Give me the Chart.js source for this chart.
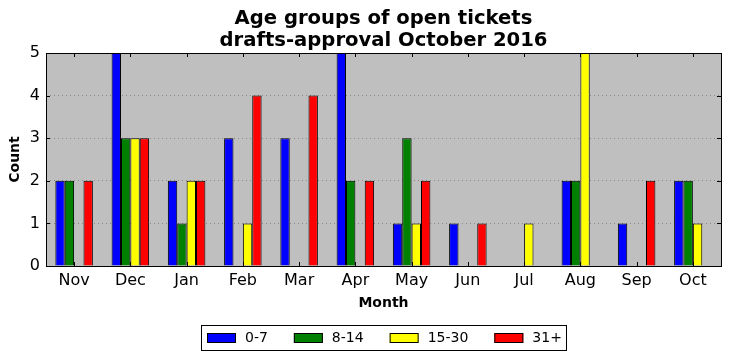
<!DOCTYPE html>
<html lang="en">
<head>
  <meta charset="UTF-8">
  <title>Age groups of open tickets</title>
  <style>
    body { margin: 0; padding: 0; background: #fff; }
    #wrap { width: 731px; height: 361px; position: relative; }
  </style>
</head>
<body>
  <div id="wrap"><canvas id="chart"></canvas></div>

  <script src="https://cdn.jsdelivr.net/npm/chart.js"></script>
  <script>
    const months = ['Nov', 'Dec', 'Jan', 'Feb', 'Mar', 'Apr', 'May', 'Jun', 'Jul', 'Aug', 'Sep', 'Oct'];
    const age0to7 = [2, 5, 2, 3, 3, 5, 1, 1, 0, 2, 1, 2];
    const age8to14 = [2, 3, 1, 0, 0, 2, 3, 0, 0, 2, 0, 2];
    const age15to30 = [0, 3, 2, 1, 0, 0, 1, 0, 1, 5, 0, 1];
    const age31plus = [2, 3, 2, 4, 4, 2, 2, 1, 0, 0, 2, 0];
    const yTicks = [0, 1, 2, 3, 4, 5];
    const titleLines = ['Age groups of open tickets', 'drafts-approval October 2016'];

    const font = 'DejaVu Sans';

    // title centred over the axes, not over the whole canvas
    const titlePlugin = {
      id: 'axesTitle',
      afterDraw(chart) {
        const { ctx, chartArea: a } = chart;
        const cx = (a.left + a.right) / 2;
        ctx.save();
        ctx.fillStyle = '#000';
        ctx.font = 'bold 19.6px "' + font + '"';
        ctx.textAlign = 'center';
        ctx.textBaseline = 'middle';
        titleLines.forEach((t, i) => ctx.fillText(t, cx, 19 + i * 22));
        ctx.restore();
      }
    };

    // frame and inward ticks, like the matplotlib original
    const framePlugin = {
      id: 'frame',
      afterDatasetsDraw(chart) {
        const { ctx, chartArea: a, scales } = chart;
        ctx.save();
        ctx.strokeStyle = '#000';
        ctx.lineWidth = 1;
        ctx.beginPath();
        months.forEach((m, i) => {
          const x = Math.round(scales.x.getPixelForValue(i)) + 0.5;
          ctx.moveTo(x, a.bottom); ctx.lineTo(x, a.bottom - 4);
          ctx.moveTo(x, a.top); ctx.lineTo(x, a.top + 4);
        });
        yTicks.forEach(v => {
          const y = Math.round(scales.y.getPixelForValue(v)) + 0.5;
          ctx.moveTo(a.left, y); ctx.lineTo(a.left + 4, y);
          ctx.moveTo(a.right, y); ctx.lineTo(a.right - 4, y);
        });
        ctx.stroke();
        ctx.strokeRect(Math.round(a.left) + 0.5, Math.round(a.top) + 0.5,
          Math.round(a.right - a.left), Math.round(a.bottom - a.top));
        ctx.restore();
      }
    };

    // boxed legend under the axis title, centred on the axes
    const legendPlugin = {
      id: 'boxLegend',
      afterDraw(chart) {
        const { ctx, chartArea: a } = chart;
        const sets = chart.data.datasets;
        ctx.save();
        ctx.font = '14px "' + font + '"';
        const patchW = 29, patchH = 10, gapText = 9, gapItem = 26, padL = 6, padR = 4;
        const widths = sets.map(d => ctx.measureText(d.label).width);
        let total = padL + padR;
        widths.forEach((w, i) => { total += patchW + gapText + w + (i < widths.length - 1 ? gapItem : 0); });
        const left = Math.round((a.left + a.right) / 2 - total / 2);
        const top = 325, h = 25, cy = top + h / 2;
        ctx.fillStyle = '#fff';
        ctx.fillRect(left, top, total, h);
        ctx.strokeStyle = '#000';
        ctx.lineWidth = 1;
        ctx.strokeRect(left + 0.5, top + 0.5, Math.round(total), h);
        let x = left + padL;
        sets.forEach((d, i) => {
          ctx.fillStyle = d.backgroundColor;
          ctx.fillRect(x, Math.round(cy - patchH / 2), patchW, patchH);
          ctx.strokeRect(x + 0.5, Math.round(cy - patchH / 2) + 0.5, patchW - 1, patchH - 1);
          x += patchW + gapText;
          ctx.fillStyle = '#000';
          ctx.textBaseline = 'middle';
          ctx.fillText(d.label, x, cy + 1);
          x += widths[i] + gapItem;
        });
        ctx.restore();
      }
    };

    // grey plot background
    const bgPlugin = {
      id: 'plotBg',
      beforeDraw(chart) {
        const { ctx, chartArea: a } = chart;
        ctx.save();
        ctx.fillStyle = '#bfbfbf';
        ctx.fillRect(a.left, a.top, a.right - a.left, a.bottom - a.top);
        ctx.restore();
      }
    };

    function series(label, data, color) {
      return {
        label: label,
        data: data,
        backgroundColor: color,
        borderColor: '#000',
        borderWidth: 1,
        borderSkipped: 'start',
        barPercentage: 1.0,
        categoryPercentage: 0.667
      };
    }

    new Chart(document.getElementById('chart'), {
      type: 'bar',
      data: {
        labels: months,
        datasets: [
          series('0-7', age0to7, '#0000ff'),
          series('8-14', age8to14, '#008000'),
          series('15-30', age15to30, '#ffff00'),
          series('31+', age31plus, '#ff0000')
        ]
      },
      options: {
        responsive: true,
        maintainAspectRatio: false,
        animation: false,
        layout: { padding: { left: 7, right: 10, top: 53, bottom: 49 } },
        plugins: {
          title: { display: false },
          legend: { display: false },
          tooltip: { enabled: false }
        },
        scales: {
          x: {
            grid: { display: false, drawTicks: false },
            border: { display: false },
            ticks: { color: '#000', font: { family: font, size: 16 }, padding: 5, maxRotation: 0 },
            title: {
              display: true, text: 'Month', color: '#000',
              font: { family: font, size: 14, weight: 'bold' },
              padding: { top: 0, bottom: 0 }
            }
          },
          y: {
            min: 0,
            max: 5,
            afterBuildTicks(axis) { axis.ticks = yTicks.map(v => ({ value: v })); },
            grid: {
              color: c => (c.tick.value === 0 || c.tick.value === 5) ? 'rgba(0,0,0,0)' : '#8a8a8a',
              drawTicks: false
            },
            border: { display: false, dash: [1, 3] },
            ticks: { color: '#000', font: { family: font, size: 16 }, padding: 6 },
            title: {
              display: true, text: 'Count', color: '#000',
              font: { family: font, size: 14, weight: 'bold' },
              padding: { top: 0, bottom: 0 }
            }
          }
        }
      },
      plugins: [bgPlugin, framePlugin, titlePlugin, legendPlugin]
    });
  </script>
</body>
</html>
